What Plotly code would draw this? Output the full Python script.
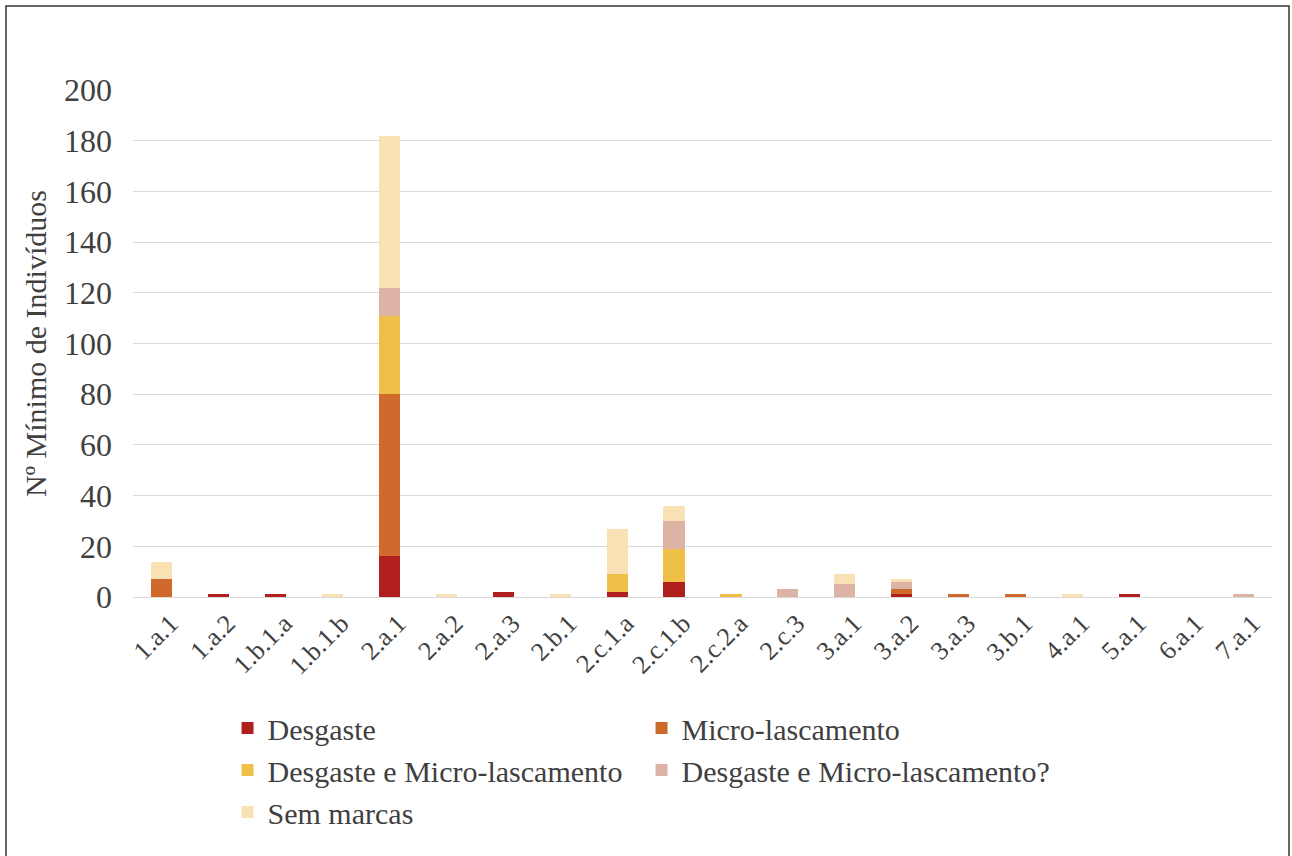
import plotly.graph_objects as go

categories = ["1.a.1", "1.a.2", "1.b.1.a", "1.b.1.b", "2.a.1", "2.a.2", "2.a.3", "2.b.1",
              "2.c.1.a", "2.c.1.b", "2.c.2.a", "2.c.3", "3.a.1", "3.a.2", "3.a.3", "3.b.1",
              "4.a.1", "5.a.1", "6.a.1", "7.a.1"]

desgaste =        [0, 1, 1, 0, 16, 0, 2, 0, 2, 6, 0, 0, 0, 1, 0, 0, 0, 1, 0, 0]
micro =           [7, 0, 0, 0, 64, 0, 0, 0, 0, 0, 0, 0, 0, 2, 1, 1, 0, 0, 0, 0]
desg_micro =      [0, 0, 0, 0, 31, 0, 0, 0, 7, 13, 1, 0, 0, 0, 0, 0, 0, 0, 0, 0]
desg_micro_q =    [0, 0, 0, 0, 11, 0, 0, 0, 0, 11, 0, 3, 5, 3, 0, 0, 0, 0, 0, 1]
sem_marcas =      [7, 0, 0, 1, 60, 1, 0, 1, 18, 6, 0, 0, 4, 1, 0, 0, 1, 0, 0, 0]

series_names = ["Desgaste", "Micro-lascamento", "Desgaste e Micro-lascamento",
                "Desgaste e Micro-lascamento?", "Sem marcas"]
series_values = [desgaste, micro, desg_micro, desg_micro_q, sem_marcas]
series_colors = ["#B01E1E", "#D06A2C", "#EFC048", "#DDB3A6", "#F8E2B5"]

y_ticks = [0, 20, 40, 60, 80, 100, 120, 140, 160, 180, 200]

FONT = "Liberation Serif, Times New Roman, serif"
TXT = "#404040"

fig = go.Figure()
for name, vals, col in zip(series_names, series_values, series_colors):
    fig.add_trace(go.Bar(x=categories, y=vals, name=name, marker_color=col,
                         marker_line_width=0))

fig.update_layout(
    width=1292, height=856,
    barmode="stack",
    bargap=0.63,
    paper_bgcolor="white",
    plot_bgcolor="white",
    margin=dict(l=133, r=20, t=90, b=259),
    font=dict(family=FONT, size=30, color=TXT),
    showlegend=True,
    legend=dict(
        orientation="h",
        x=0.083, xanchor="left",
        y=-0.207, yanchor="top",
        entrywidth=369, entrywidthmode="pixels",
        font=dict(family=FONT, size=30, color=TXT),
        bgcolor="rgba(0,0,0,0)",
        traceorder="normal",
    ),
    xaxis=dict(
        type="category",
        tickangle=-45,
        tickfont=dict(family=FONT, size=26, color=TXT),
        ticklabelshift=9,
        showgrid=False,
        showline=True, linecolor="#D9D9D9", linewidth=1,
        ticks="",
    ),
    yaxis=dict(
        range=[0, 200],
        tickvals=y_ticks,
        tickfont=dict(family=FONT, size=32, color=TXT),
        showgrid=True, gridcolor="#D9D9D9", gridwidth=1,
        zeroline=False,
        showline=False,
        ticks="",
        ticklen=0,
        ticklabelstandoff=20,
        title=dict(text="Nº Mínimo de Indivíduos",
                   font=dict(family=FONT, size=30, color=TXT),
                   standoff=8),
    ),
)

# outer frame of the figure (decoration)
fig.add_shape(type="rect", xref="paper", yref="paper",
              x0=(6 - 133) / 1139, x1=(1289 - 133) / 1139,
              y0=-0.6, y1=(597 - 6) / 507,
              line=dict(color="#333333", width=1.5), fillcolor="rgba(0,0,0,0)",
              layer="below")

fig.write_html("out.html", config={"displayModeBar": False},
               post_script="document.body.style.margin='0';")
